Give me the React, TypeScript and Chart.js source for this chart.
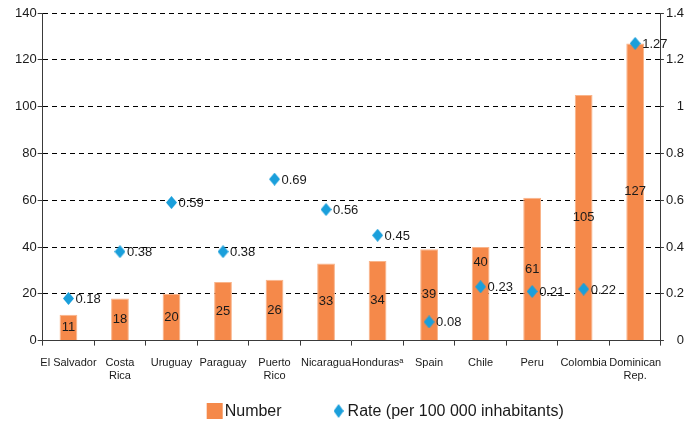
import { useEffect, useRef } from "react";
import { Chart, registerables } from "chart.js";

Chart.register(...registerables);

// Countries along the category axis (multi-line where the label wraps)
const countries: (string | string[])[] = [
  "El Salvador",
  ["Costa", "Rica"],
  "Uruguay",
  "Paraguay",
  ["Puerto", "Rico"],
  "Nicaragua",
  "Honduras\u1D43",
  "Spain",
  "Chile",
  "Peru",
  "Colombia",
  ["Dominican", "Rep."],
];

// Absolute number of cases per country
const numbers = [11, 18, 20, 25, 26, 33, 34, 39, 40, 61, 105, 127];

// Rate per 100 000 inhabitants
const rates = [0.18, 0.38, 0.59, 0.38, 0.69, 0.56, 0.45, 0.08, 0.23, 0.21, 0.22, 1.27];

// Axis ranges
const numberAxis = { min: 0, max: 140, step: 20 };
const rateAxis = { min: 0, max: 1.4, step: 0.2 };

const seriesNames = ["Number", "Rate (per 100 000 inhabitants)"];

const ORANGE = "#F5894A";
const BLUE = "#1A9FDB";
const TEXT = "#1a1a1a";
const AXIS = "#3a3a3a";
const FONT = "'Liberation Sans', Arial, sans-serif";

function makeDiamond(w: number, h: number, color: string): HTMLCanvasElement {
  const c = document.createElement("canvas");
  c.width = w;
  c.height = h;
  const g = c.getContext("2d")!;
  g.fillStyle = color;
  g.beginPath();
  g.moveTo(w / 2, 0);
  g.lineTo(w, h / 2);
  g.lineTo(w / 2, h);
  g.lineTo(0, h / 2);
  g.closePath();
  g.fill();
  return c;
}

// Value labels: numbers centred in each bar, rates to the right of each diamond
const valueLabels = {
  id: "valueLabels",
  afterDatasetsDraw(chart: any) {
    const { ctx } = chart;
    const bars = chart.getDatasetMeta(0).data;
    const points = chart.getDatasetMeta(1).data;
    ctx.save();
    ctx.font = `13px ${FONT}`;
    ctx.fillStyle = TEXT;
    ctx.textBaseline = "middle";

    ctx.textAlign = "center";
    bars.forEach((bar: any, i: number) => {
      let y = (bar.y + bar.base) / 2;
      const p = points[i];
      // keep the number clear of the diamond sitting inside the bar
      if (p && Math.abs(y - p.y) < 14) y = p.y - 24;
      ctx.fillText(String(numbers[i]), bar.x, y);
    });

    ctx.textAlign = "left";
    points.forEach((p: any, i: number) => {
      ctx.fillText(rates[i].toFixed(2), p.x + 7, p.y + 1);
    });
    ctx.restore();
  },
};

// Legend row under the category labels
const bottomLegend = {
  id: "bottomLegend",
  afterDraw(chart: any) {
    const { ctx, chartArea } = chart;
    const y = chart.height - 13;
    const x = chartArea.left + 164;
    ctx.save();
    ctx.font = `16px ${FONT}`;
    ctx.textBaseline = "middle";
    ctx.textAlign = "left";

    ctx.fillStyle = ORANGE;
    ctx.fillRect(x, y - 8, 16, 16);
    ctx.fillStyle = TEXT;
    const first = chart.data.datasets[0].label;
    ctx.fillText(first, x + 18, y + 1);

    const x2 = x + 18 + ctx.measureText(first).width + 52;
    const d = makeDiamond(10, 14, BLUE);
    ctx.drawImage(d, x2, y - 7);
    ctx.fillStyle = TEXT;
    ctx.fillText(chart.data.datasets[1].label, x2 + 14, y + 1);
    ctx.restore();
  },
};

export default function App() {
  const canvasRef = useRef<HTMLCanvasElement | null>(null);

  useEffect(() => {
    if (!canvasRef.current) return;
    const diamond = makeDiamond(11, 13, BLUE);

    const chart = new Chart(canvasRef.current, {
      type: "bar",
      data: {
        labels: countries,
        datasets: [
          {
            type: "bar",
            label: seriesNames[0],
            data: numbers,
            backgroundColor: ORANGE,
            borderColor: "#F9B48A",
            borderWidth: { left: 1, right: 1, top: 1, bottom: 0 },
            barPercentage: 0.345,
            categoryPercentage: 1,
            yAxisID: "y",
            order: 1,
          },
          {
            type: "line",
            label: seriesNames[1],
            data: rates,
            showLine: false,
            pointStyle: diamond,
            pointRadius: 6,
            backgroundColor: BLUE,
            borderColor: BLUE,
            yAxisID: "y1",
            order: 0,
          },
        ],
      } as any,
      options: {
        responsive: false,
        animation: false,
        layout: { padding: { left: 14, right: 12, top: 13, bottom: 30 } },
        plugins: {
          legend: { display: false },
          tooltip: { enabled: false },
        },
        scales: {
          x: {
            offset: true,
            grid: {
              display: true,
              offset: true,
              drawOnChartArea: false,
              tickLength: 5,
              tickColor: AXIS,
            },
            border: { color: AXIS, width: 1 },
            ticks: {
              color: TEXT,
              font: { family: FONT, size: 11, lineHeight: 1.2 },
              padding: 11,
              maxRotation: 0,
              autoSkip: false,
            },
          },
          y: {
            position: "left",
            min: numberAxis.min,
            max: numberAxis.max,
            grid: {
              color: (c: any) => (c.tick && c.tick.value === 0 ? "rgba(0,0,0,0)" : "#000"),
              lineWidth: 1,
              tickLength: 5,
              tickColor: AXIS,
            },
            border: { color: AXIS, width: 1, dash: [5, 4] },
            ticks: {
              stepSize: numberAxis.step,
              color: TEXT,
              font: { family: FONT, size: 13 },
              padding: 1,
            },
          },
          y1: {
            position: "right",
            min: rateAxis.min,
            max: rateAxis.max,
            grid: {
              drawOnChartArea: false,
              tickLength: 3,
              tickColor: AXIS,
            },
            border: { color: AXIS, width: 1 },
            ticks: {
              stepSize: rateAxis.step,
              color: TEXT,
              font: { family: FONT, size: 13 },
              padding: 1,
              crossAlign: "far",
              callback: (v: any) => String(Math.round(Number(v) * 10) / 10),
            },
          },
        },
      } as any,
      plugins: [valueLabels, bottomLegend],
    });

    return () => chart.destroy();
  }, []);

  return (
    <div style={{ position: "absolute", left: 0, top: 0, width: 696, height: 424, background: "#fff" }}>
      <canvas ref={canvasRef} width={696} height={424} />
    </div>
  );
}
